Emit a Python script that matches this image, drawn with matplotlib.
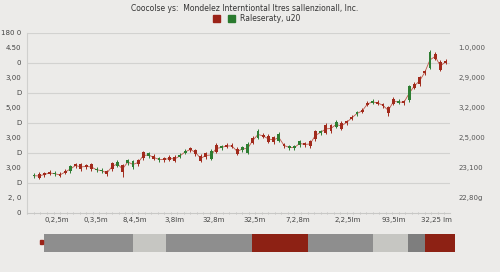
import numpy as np
import matplotlib
matplotlib.use("Agg")
import matplotlib.pyplot as plt
from matplotlib.ticker import MultipleLocator

# candle data
opens = [36.5, 39, 39.5, 41, 38.5, 39, 42, 41.5, 48.5, 48.5,
         47.5, 48.5, 42.5, 41.5, 41.5, 49.5, 47, 47.5, 49.5, 45.5,
         52.5, 60.5, 56.5, 57, 52.5, 54.5, 56, 56, 56, 60,
         64.5, 62.5, 57, 59.5, 54, 68, 64.5, 68, 68, 64,
         62.5, 60, 75, 75, 78, 77, 75.5, 72, 68.5, 64.5,
         64.5, 67.5, 69.5, 71.5, 81.5, 79.5, 88, 87.5, 86, 90,
         91.5, 96, 98.5, 103, 110, 110, 111, 108.5, 105.5, 114,
         110, 111.5, 112.5, 129, 135.5, 141.5, 145, 159, 151, 152]
closes = [38, 35, 37.5, 39, 40, 37, 40, 46.5, 46.5, 43.5,
          45.5, 43.5, 44, 43, 38.5, 43.5, 51, 40.5, 52.5, 51.5,
          48.5, 54.5, 59.5, 54, 54.5, 52.5, 53, 52, 58, 62,
          62.5, 58.5, 52, 55.5, 62, 61, 66.5, 66, 66, 59,
          65.5, 69, 70, 82, 76, 71, 70.5, 79, 66.5, 66.5,
          66.5, 71.5, 67.5, 66.5, 73.5, 81.5, 80, 81.5, 91, 84,
          89.5, 94, 100.5, 101, 108, 112, 109, 106.5, 99.5, 109,
          112, 109.5, 126.5, 125, 128.5, 139.5, 161, 154, 143, 150]
highs = [39.5, 40.5, 41, 42.5, 41.5, 40.5, 43.5, 48, 50, 50,
         49, 50, 45.5, 44.5, 43, 51, 52.5, 49, 54, 53,
         54, 62, 61, 58.5, 56, 56, 57.5, 57.5, 59.5, 63.5,
         66, 64, 58.5, 61, 63.5, 69.5, 68, 69.5, 69.5, 65.5,
         67, 70.5, 76.5, 83.5, 79.5, 78.5, 77, 80.5, 70, 68,
         68, 73, 71, 73, 83, 83, 89.5, 89, 92.5, 91.5,
         93, 97.5, 102, 104.5, 111.5, 113.5, 112.5, 110, 107, 115.5,
         113.5, 113, 128, 130.5, 137, 143, 162.5, 160.5, 152.5, 153.5]
lows = [35, 33.5, 36, 37.5, 37, 35.5, 38.5, 40, 45, 42,
        44, 42, 41, 40, 37, 42, 45.5, 36, 48, 44,
        47, 53, 55, 52.5, 51, 51, 51.5, 50.5, 54.5, 58.5,
        61, 57, 50.5, 54, 52.5, 59.5, 63, 64.5, 64.5, 57.5,
        61, 58.5, 68.5, 73.5, 74.5, 69.5, 69, 70.5, 65, 63,
        63, 66, 66, 65, 72, 78, 78.5, 80, 84.5, 82.5,
        88, 92.5, 97, 99.5, 106.5, 108.5, 107.5, 105, 97, 107.5,
        108.5, 108, 111, 123.5, 127, 138, 143.5, 152.5, 141.5, 148.5]

left_ticks = [0, 15, 30, 45, 60, 75, 90, 105, 120, 135, 150, 165, 180]
left_labels = ["0", "2, 0", "D", "3,00", "D", "3,00", "D", "5,00", "D", "3,00", "0", "4.50", "180 0"]
right_ticks = [165, 135, 105, 75, 45, 15]
right_labels = ["1.0,000", "2,9,000", "3,2,000", "2,5,000", "23,100", "22,80g"]
x_ticks = [4.4, 11.9, 19.4, 26.9, 34.5, 42.4, 50.7, 60.3, 69.1, 77.2]
x_labels = ["0,2,5m", "0,3,5m", "8,4,5m", "3,8lm", "32,8m", "32,5m", "7,2,8m", "2,2,5lm", "93,5lm", "32,25 lm"]

seg_widths = [89, 33, 86, 56, 65, 35, 17, 30]
seg_colors = ["#8e8e8e", "#c6c6c2", "#8e8e8e", "#8d2114", "#8e8e8e", "#c6c6c2", "#7e7e7e", "#8d2114"]

bg = "#ecebe9"
red = "#a12a1c"
green = "#2e7d32"
txt = "#444444"

fig = plt.figure(figsize=(5, 2.72), dpi=100, facecolor=bg)
ax = fig.add_axes([0.054, 0.217, 0.846, 0.662], facecolor=bg)

o = np.array(opens)
c = np.array(closes)
x = np.arange(len(o))
up = c >= o
cols = np.where(up, green, red)

# thin line through the candles
ax.plot(x, (o + c) / 2, color="#c0574a", lw=0.6, zorder=2)
ax.vlines(x, lows, highs, colors=cols, lw=0.7, zorder=3)
ax.bar(x, np.abs(c - o), bottom=np.minimum(o, c), width=0.55, color=cols, zorder=4)

ax.set_xlim(-1.34, 79.85)
ax.set_ylim(0, 180)
ax.set_yticks(left_ticks)
ax.set_yticklabels(left_labels)
ax.set_xticks(x_ticks)
ax.set_xticklabels(x_labels)
ax.xaxis.set_minor_locator(MultipleLocator(1.25))
ax.tick_params(axis="x", which="major", length=0, labelsize=5, colors=txt, pad=3)
ax.tick_params(axis="x", which="minor", length=1.5, color="#bbbbbb", direction="inout")
ax.tick_params(axis="y", length=0, labelsize=5, colors=txt, pad=4)

for yv in [30, 60, 90, 120, 150, 180]:
    ax.axhline(yv, color="#d2d2d0", lw=0.8, zorder=1)

for s in ["top", "right"]:
    ax.spines[s].set_visible(False)
ax.spines["left"].set_color("#d0d0ce")
ax.spines["bottom"].set_color("#c8c8c6")
ax.spines["left"].set_linewidth(0.8)
ax.spines["bottom"].set_linewidth(0.8)

ax2 = ax.twinx()
ax2.set_ylim(0, 180)
ax2.set_yticks(right_ticks)
ax2.set_yticklabels(right_labels)
ax2.tick_params(axis="y", length=0, labelsize=5, colors="#555555", pad=6)
for s in ax2.spines.values():
    s.set_visible(False)

fig.text(0.49, 0.985, "Coocolse ys:  Mondelez Interntiontal Itres sallenzionall, Inc.",
         ha="center", va="top", fontsize=5.5, color="#333333")
fig.patches.append(plt.Rectangle((0.426, 0.918), 0.014, 0.026, transform=fig.transFigure,
                                 color="#9b2318", figure=fig))
fig.patches.append(plt.Rectangle((0.456, 0.918), 0.014, 0.026, transform=fig.transFigure,
                                 color="#2a7a2e", figure=fig))
fig.text(0.479, 0.931, "Raleseraty, u20", ha="left", va="center", fontsize=5.5, color="#333333")

# bottom strip
bx = fig.add_axes([0.088, 0.0735, 0.822, 0.066], facecolor=bg)
lefts = np.concatenate([[0], np.cumsum(seg_widths)[:-1]])
bx.barh(0, seg_widths, left=lefts, height=1, color=seg_colors)
bx.set_xlim(0, sum(seg_widths))
bx.set_ylim(-0.5, 0.5)
bx.axis("off")
fig.patches.append(plt.Rectangle((0.08, 0.102), 0.006, 0.014, transform=fig.transFigure,
                                 color="#9b2318", figure=fig))

fig.savefig("out.png", dpi=100, facecolor=bg)
